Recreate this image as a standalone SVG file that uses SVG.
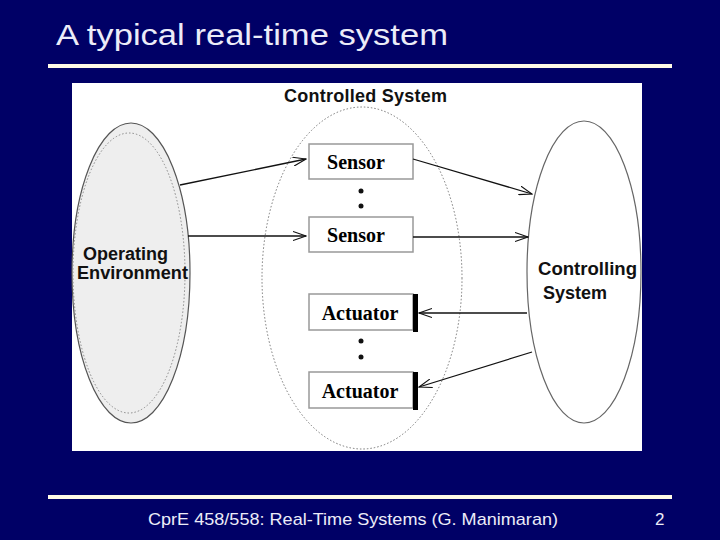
<svg xmlns="http://www.w3.org/2000/svg" width="720" height="540" viewBox="0 0 720 540">
<defs>
<style>
.sans{font-family:"Liberation Sans",Arial,sans-serif}
.lbl{font-family:"Liberation Sans",Arial,sans-serif;font-weight:bold;font-size:18px;fill:#111}
.box{fill:#fff;stroke:#999;stroke-width:1.5}
.boxt{font-family:"Liberation Serif","Times New Roman",serif;font-weight:bold;font-size:20px;fill:#000;text-anchor:middle}
.conn{stroke:#111;stroke-width:1.3;fill:none;marker-end:url(#arr)}
.dot{fill:#111}
</style>
<marker id="arr" viewBox="0 0 14 10" refX="13" refY="5" markerWidth="14" markerHeight="10" markerUnits="userSpaceOnUse" orient="auto">
<path d="M0,0.5 L13,5 L0,9.5" fill="none" stroke="#111" stroke-width="1.1"/>
</marker>
</defs>
<rect width="720" height="540" fill="#000066"/>
<text x="56" y="45" class="sans" font-size="30" fill="#ececf8" textLength="392" lengthAdjust="spacingAndGlyphs">A typical real-time system</text>
<rect x="48" y="64" width="624" height="4" fill="#fffbe6"/>
<rect x="48" y="495" width="624" height="4" fill="#fffbe6"/>
<text x="148" y="525" class="sans" font-size="17" fill="#ececf8" textLength="410" lengthAdjust="spacingAndGlyphs">CprE 458/558: Real-Time Systems (G. Manimaran)</text>
<text x="655" y="525" class="sans" font-size="17" fill="#ececf8">2</text>
<rect x="72" y="83" width="570" height="368" fill="#fff"/>

<g id="operating-environment">
<ellipse cx="131" cy="273" rx="59" ry="150" fill="#eeeeee" stroke="#555" stroke-width="1.2"/>
<ellipse cx="129" cy="273" rx="56" ry="140" fill="none" stroke="#888" stroke-width="1" stroke-dasharray="1.5,2"/>
<text x="83" y="260" class="lbl">Operating</text>
<text x="77" y="279" class="lbl" textLength="111" lengthAdjust="spacingAndGlyphs">Environment</text>
</g>

<g id="controlled-system">
<ellipse cx="362" cy="278" rx="100" ry="171" fill="none" stroke="#777" stroke-width="1" stroke-dasharray="1.5,2"/>
<text x="284" y="102" class="lbl" font-size="16" textLength="163" lengthAdjust="spacing">Controlled System</text>
</g>

<g id="sensor-1">
<rect x="309" y="144" width="104" height="35" class="box"/>
<text x="356" y="169" class="boxt">Sensor</text>
</g>
<g id="sensor-dots">
<circle cx="361" cy="191" r="2.5" class="dot"/>
<circle cx="361" cy="206" r="2.5" class="dot"/>
</g>
<g id="sensor-2">
<rect x="309" y="217" width="104" height="35" class="box"/>
<text x="356" y="242" class="boxt">Sensor</text>
</g>
<g id="actuator-1">
<rect x="309" y="294" width="104" height="36" class="box"/>
<rect x="413" y="294" width="5" height="38" fill="#000"/>
<text x="360" y="320" class="boxt">Actuator</text>
</g>
<g id="actuator-dots">
<circle cx="361" cy="341" r="2.5" class="dot"/>
<circle cx="361" cy="357" r="2.5" class="dot"/>
</g>
<g id="actuator-2">
<rect x="309" y="372" width="104" height="36" class="box"/>
<rect x="413" y="372" width="5" height="38" fill="#000"/>
<text x="360" y="398" class="boxt">Actuator</text>
</g>

<g id="controlling-system">
<ellipse cx="584" cy="272" rx="57" ry="151" fill="#fff" stroke="#666" stroke-width="1.2"/>
<text x="538" y="275" class="lbl" textLength="99" lengthAdjust="spacingAndGlyphs">Controlling</text>
<text x="543" y="299" class="lbl">System</text>
</g>

<g id="connectors">
<line x1="180" y1="185" x2="306" y2="159" class="conn"/>
<line x1="188" y1="236" x2="306" y2="236" class="conn"/>
<line x1="413" y1="159" x2="532" y2="194" class="conn"/>
<line x1="413" y1="237" x2="528" y2="237" class="conn"/>
<line x1="527" y1="313" x2="419" y2="313" class="conn"/>
<line x1="532" y1="352" x2="419" y2="387" class="conn"/>
</g>
</svg>
